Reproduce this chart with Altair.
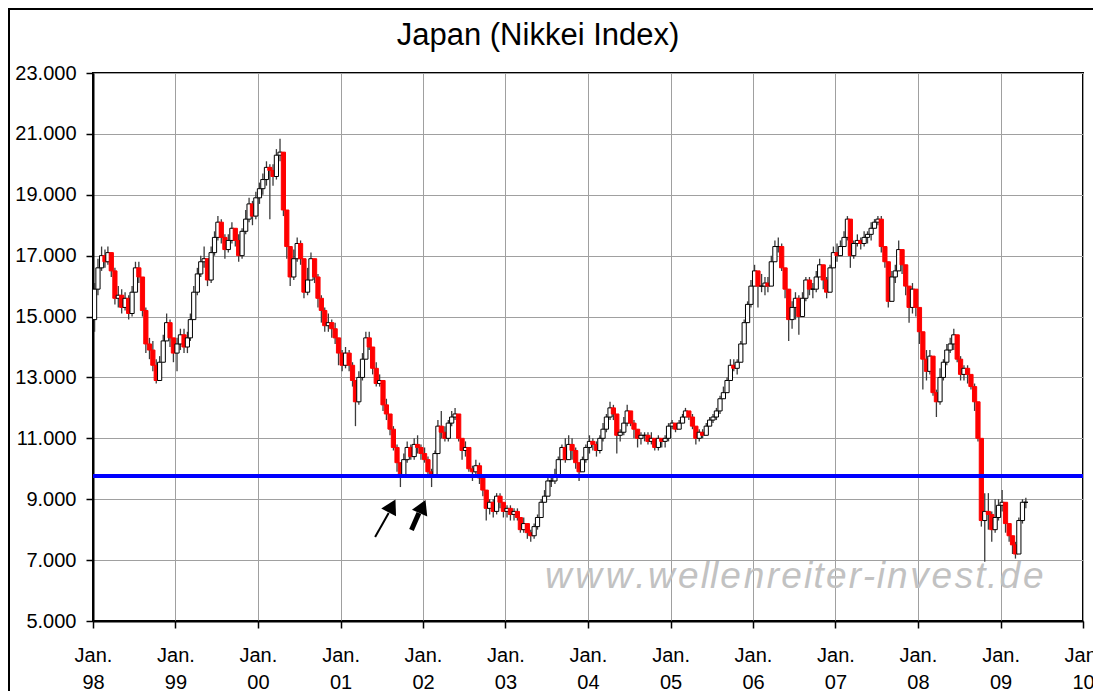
import altair as alt
import pandas as pd

# ---------------- data (semi-monthly candles) ----------------
FIRST_OPEN = 14900

CLOSE_1998 = [15900,16600,17000,16800,17100,16500,15600,15700,15300,15600,15100,15800,16600,16300,15200,14100,13900,13400,12900,13500,14200,14800,14300,13800]
HIGH_1998  = [16100,16900,17300,17200,17300,17100,16600,16000,15900,15800,15700,16000,16800,16800,16300,15300,14300,14200,13600,13700,14400,15100,14900,14300]
LOW_1998   = [14500,15700,16500,16600,16700,16300,15400,15300,15100,15200,14900,15000,15800,16100,15000,13800,13600,13200,12800,12900,13500,14200,14000,13500]

CLOSE_1999 = [14100,14400,14000,14300,14900,15800,16400,16800,16900,16200,17100,17600,18100,17600,17200,17500,17900,17500,17000,17800,18200,18700,18300,18900]
HIGH_1999  = [14300,14600,14600,14500,15100,16000,16600,17000,17300,16900,17300,17800,18300,18200,17700,17700,18100,17900,17700,17900,18500,18900,18800,19100]
LOW_1999   = [13200,13900,13800,13800,14200,14900,15700,16300,16600,16000,16100,17000,17500,17400,16900,17100,17400,17300,16800,16900,17700,18100,18000,18200]

CLOSE_2000 = [19200,19500,19900,19800,19600,20300,20400,18500,17300,16300,16900,17400,16900,15800,16200,16900,16300,15600,15200,14700,14800,14600,14300,13800]
HIGH_2000  = [19400,19700,20100,20000,20000,20500,20840,20400,18500,17300,17200,17600,17500,16900,16600,17100,16900,16400,15700,15300,15100,14900,14800,14300]
LOW_2000   = [18700,19000,19300,18200,19300,19500,20100,18300,16900,16000,16200,16800,16700,15600,15700,16200,16100,15300,14800,14500,14500,14300,14100,13400]

CLOSE_2001 = [13400,13800,13400,12900,12200,13000,13600,14300,14000,13300,12800,12900,12100,11800,11300,10700,10200,9800,10300,10700,10400,10800,10700,10500]
HIGH_2001  = [13900,14000,13900,13500,12900,13200,13800,14500,14500,14000,13500,13100,12900,12300,11800,11400,10800,10200,10500,10900,10800,11000,11100,10800]
LOW_2001   = [13200,13300,13200,12700,11400,12100,12900,13600,13900,13100,12700,12700,11900,11600,11100,10600,9900,9400,9700,10200,10300,10300,10500,10300]

CLOSE_2002 = [10300,9900,9800,10500,11400,11200,11000,11500,11700,11800,11000,10600,10700,10000,9900,10100,9700,9300,8700,8900,8600,9100,8900,8600]
HIGH_2002  = [10700,10400,10000,10600,11600,11900,11400,11600,11900,12000,11800,11000,10900,10700,10100,10300,10200,9800,9300,9000,9000,9200,9200,8900]
LOW_2002   = [10200,9800,9400,9800,10500,11000,10900,10900,11400,11600,10900,10300,10400,9900,9600,9800,9500,9100,8300,8500,8400,8500,8700,8400]

CLOSE_2003 = [8700,8500,8600,8400,8000,8200,7900,7800,8100,8400,8900,9100,9600,9600,9800,10300,10700,10300,10800,10600,10200,9900,10300,10700]
HIGH_2003  = [8800,8800,8700,8700,8400,8400,8200,8000,8200,8500,9000,9300,9800,9800,10000,10400,10800,11000,11100,11000,10700,10200,10400,10800]
LOW_2003   = [8400,8300,8300,8300,7900,7900,7700,7600,7700,8000,8400,8900,9100,9400,9500,9800,10300,10200,10300,10300,10000,9600,9900,10200]

CLOSE_2004 = [10900,10800,10600,11000,11300,11700,12000,11800,11100,11200,11500,11900,11500,11300,11000,11100,11100,10900,11000,10700,11000,10900,11000,11400]
HIGH_2004  = [11100,11000,10900,11100,11500,11800,12200,12100,11800,11300,11700,12100,11900,11600,11300,11200,11200,11200,11200,11000,11100,11000,11100,11500]
LOW_2004   = [10500,10600,10400,10500,10900,11200,11600,11600,10500,10900,11100,11400,11400,11000,10700,10800,10900,10800,10800,10600,10600,10700,10700,10900]

CLOSE_2005 = [11500,11300,11500,11700,11900,11700,11400,11000,11200,11100,11400,11600,11700,11900,12300,12500,12900,13400,13300,13500,14100,14800,15400,16000]
HIGH_2005  = [11600,11500,11600,11800,12000,11900,11800,11300,11300,11300,11500,11700,11800,12000,12400,12700,13000,13600,13600,13600,14200,14900,15500,16200]
LOW_2005   = [11300,11200,11300,11500,11700,11600,11300,10800,10900,11000,11100,11400,11500,11600,11800,12300,12500,12900,13200,13100,13500,14100,14800,15300]

CLOSE_2006 = [16500,16000,16000,16100,16000,16800,17300,17300,16600,15900,14900,15300,15600,15000,15600,16200,15900,15900,16300,16700,16200,15800,16600,17100]
HIGH_2006  = [16700,16500,16400,16300,16300,17000,17500,17600,17400,16600,15900,15500,15800,15700,15800,16300,16300,16100,16500,16900,16700,16300,16700,17300]
LOW_2006   = [16000,15300,15800,15700,15800,16000,16800,17100,16500,15600,14200,14600,14900,14400,15000,15500,15700,15600,15800,16300,15900,15600,15800,16600]

CLOSE_2007 = [17000,17300,17600,18200,17000,17400,17500,17400,17600,17700,17900,18100,18200,17300,16800,15500,16300,16500,17200,16700,16000,15300,15900,15300]
HIGH_2007  = [17400,17500,17800,18300,18100,17500,17700,17600,17800,17800,18100,18200,18300,18300,17300,16800,16500,16700,17500,17200,16700,16000,16100,15900]
LOW_2007   = [16800,17000,17300,17500,16600,16900,17300,17200,17300,17400,17500,17900,18000,17100,16600,15300,15500,16100,16500,16400,15700,14800,15100,15000]

CLOSE_2008 = [14500,13600,13200,13700,12500,12200,13000,13500,13900,14100,14400,13600,13100,13300,13100,12700,12200,11000,8300,8600,8500,8000,8400,8800]
HIGH_2008  = [15300,14200,13900,13900,13400,12600,13300,13600,14100,14300,14600,14300,13700,13400,13400,13100,12800,12200,11000,9200,9200,8600,9000,9000]
LOW_2008   = [14100,12600,12900,13100,12400,11700,12100,12900,13400,13800,13900,13500,12900,12900,12800,12600,11900,10900,8100,6950,8000,7600,7900,8300]

CLOSE_2009 = [8900,8200,7800,7500,7200,8300,8900,8900]
HIGH_2009  = [9300,8600,8200,7800,7600,8400,9000,9050]
LOW_2009   = [8600,7900,7600,7200,7050,7200,8200,8700]

SUPPORT_LEVEL = 9760
Y_TICKS = [5000, 7000, 9000, 11000, 13000, 15000, 17000, 19000, 21000, 23000]
X_TICK_YEARS = list(range(1998, 2011))
TITLE = "Japan (Nikkei Index)"
WATERMARK = "www.wellenreiter-invest.de"

ARROW_TAIL_DATES = ["2001-06-03", "2001-11-11"]
ARROW_TAIL_VALUES = [7760, 7990]
ARROW_BASE_DATES = ["2001-08-02", "2001-12-14"]
ARROW_BASE_VALUES = [8550, 8550]
ARROW_HEAD_DATES = ["2001-08-17", "2001-12-30"]
ARROW_HEAD_VALUES = [8780, 8760]
ARROW_ANGLES = [28, 24]
ARROW_WIDTHS = [2, 5]

# ---------------- assemble ----------------
CLOSES = (CLOSE_1998 + CLOSE_1999 + CLOSE_2000 + CLOSE_2001 + CLOSE_2002 + CLOSE_2003 +
          CLOSE_2004 + CLOSE_2005 + CLOSE_2006 + CLOSE_2007 + CLOSE_2008 + CLOSE_2009)
HIGHS = (HIGH_1998 + HIGH_1999 + HIGH_2000 + HIGH_2001 + HIGH_2002 + HIGH_2003 +
         HIGH_2004 + HIGH_2005 + HIGH_2006 + HIGH_2007 + HIGH_2008 + HIGH_2009)
LOWS = (LOW_1998 + LOW_1999 + LOW_2000 + LOW_2001 + LOW_2002 + LOW_2003 +
        LOW_2004 + LOW_2005 + LOW_2006 + LOW_2007 + LOW_2008 + LOW_2009)

rows = []
prev = FIRST_OPEN
for i, c in enumerate(CLOSES):
    yr = 1998 + i // 24
    mo = (i % 24) // 2 + 1
    dd = 8 if i % 2 == 0 else 23
    o = prev
    rows.append({
        "date": f"{yr}-{mo:02d}-{dd:02d}",
        "open": o, "close": c,
        "high": max(HIGHS[i], o, c), "low": min(LOWS[i], o, c),
        "dir": "down" if c < o else "up",
    })
    prev = c
candles = pd.DataFrame(rows)


def ms(y, m=1, d=1):
    return int(pd.Timestamp(year=y, month=m, day=d, tz="UTC").value // 10**6)


T0, T1 = ms(1998), ms(2010)
W, H = 990, 548
X_VALUES = [ms(y) for y in X_TICK_YEARS]

x_scale = alt.Scale(type="utc", domain=[T0, T1], padding=0)
y_scale = alt.Scale(domain=[5000, 23000], nice=False, zero=False, padding=0)
x_axis = alt.Axis(values=X_VALUES, labelExpr="['Jan.', utcFormat(datum.value, '%y')]",
                  labelLineHeight=27, tickSize=7, labelPadding=17, labelFlush=False,
                  labelOverlap=False, labelAlign="center", grid=True, title=None)
y_axis = alt.Axis(values=Y_TICKS, labelExpr="replace(format(datum.value, ','), ',', '.')",
                  tickSize=7, labelPadding=10, grid=True, title=None)


def X(field):
    return alt.X(field, type="temporal", scale=x_scale, axis=x_axis, title=None)


def Y(field):
    return alt.Y(field, type="quantitative", scale=y_scale, axis=y_axis, title=None)


# watermark characters (decoration), spread like the stretched original
CHAR_EM = {"w": .722, ".": .278, "e": .556, "l": .222, "n": .556, "r": .333, "i": .222,
           "t": .278, "-": .333, "v": .5, "s": .5, "d": .556}
total_em = sum(CHAR_EM[ch] for ch in WATERMARK)
k = 502 / total_em
px = 450.0
wm_rows = []
for ch in WATERMARK:
    wdt = CHAR_EM[ch] * k
    cx = px + wdt / 2
    wm_rows.append({"date": T0 + cx / W * (T1 - T0), "value": 6084, "ch": ch})
    px += wdt
wm = pd.DataFrame(wm_rows)

watermark = alt.Chart(wm).mark_text(
    font="Liberation Sans", fontSize=37, fontStyle="italic", color="#c2c2c2",
    align="center", baseline="alphabetic"
).encode(x=X("date"), y=Y("value"), text="ch:N")

wicks = alt.Chart(candles).mark_rule(color="#3c3c3c", strokeWidth=1.3).encode(
    x=X("date"), y=Y("low"), y2="high:Q")

bodies = alt.Chart(candles).mark_bar(size=4.2, strokeWidth=1).encode(
    x=X("date"), y=Y("open"), y2="close:Q",
    fill=alt.Fill("dir:N", scale=alt.Scale(domain=["down", "up"], range=["#ff0000", "#ffffff"]), legend=None),
    stroke=alt.Stroke("dir:N", scale=alt.Scale(domain=["down", "up"], range=["#ff0000", "#000000"]), legend=None),
)

support = alt.Chart(pd.DataFrame({"level": [SUPPORT_LEVEL]})).mark_rule(
    color="#0000ff", strokeWidth=4).encode(y=Y("level"))

shaft_rows = []
for j in range(2):
    shaft_rows.append({"id": j, "ord": 0, "date": ARROW_TAIL_DATES[j], "value": ARROW_TAIL_VALUES[j], "w": ARROW_WIDTHS[j]})
    shaft_rows.append({"id": j, "ord": 1, "date": ARROW_BASE_DATES[j], "value": ARROW_BASE_VALUES[j], "w": ARROW_WIDTHS[j]})
shafts = alt.Chart(pd.DataFrame(shaft_rows)).mark_line(color="black").encode(
    x=X("date"), y=Y("value"), detail="id:N", order="ord:Q",
    strokeWidth=alt.StrokeWidth("w:Q", scale=None))

heads = alt.Chart(pd.DataFrame({"date": ARROW_HEAD_DATES, "value": ARROW_HEAD_VALUES,
                                "angle": ARROW_ANGLES})).mark_point(
    shape="triangle-up", filled=True, color="black", opacity=1, size=280).encode(
    x=X("date"), y=Y("value"), angle=alt.Angle("angle:Q", scale=None))

title = alt.Chart(pd.DataFrame({"t": [TITLE]})).mark_text(
    font="Liberation Sans", fontSize=31, color="black", align="center", baseline="alphabetic"
).encode(text="t:N", x=alt.value(445), y=alt.value(-28))

border = alt.Chart(pd.DataFrame({"a": [0]})).mark_rect(
    fillOpacity=0, stroke="black", strokeWidth=2).encode(
    x=alt.value(-84), x2=alt.value(W + 40), y=alt.value(-64), y2=alt.value(H + 120))

chart = alt.layer(watermark, wicks, bodies, support, shafts, heads, title, border).properties(
    width=W, height=H,
    autosize=alt.AutoSizeParams(type="none"),
    padding={"left": 85, "top": 65, "right": 10, "bottom": 70},
    background="white",
).configure_view(stroke="black", strokeWidth=2).configure_axis(
    labelFont="Liberation Sans", labelFontSize=20, labelColor="black",
    domainColor="black", domainWidth=2, tickColor="black", tickWidth=1.5,
    gridColor="#a0a0a0", gridWidth=1,
)

chart.save("out.html", embed_options={"renderer": "svg", "actions": False})
